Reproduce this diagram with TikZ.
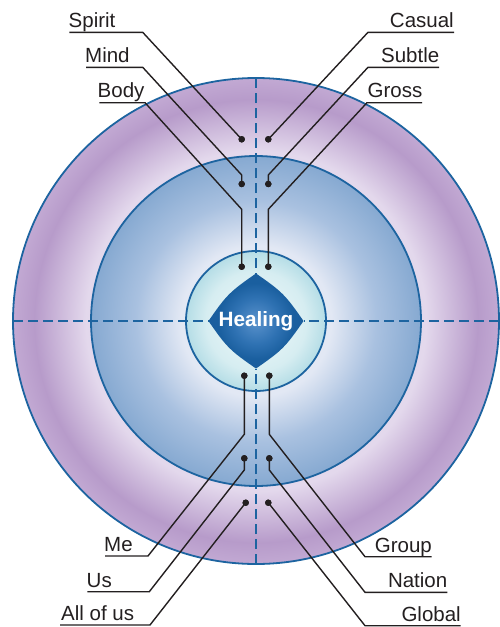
\documentclass[tikz,border=0pt]{standalone}
\usepackage{fontspec}
\setmainfont{Liberation Sans}
\definecolor{ringblue}{HTML}{1D64A0}
\definecolor{lineblack}{HTML}{231F20}
\definecolor{pl}{HTML}{E3D8EC}
\definecolor{pd}{HTML}{B79BCA}
\definecolor{pe}{HTML}{C2A9D3}
\definecolor{bc}{HTML}{EEF0F8}
\definecolor{bl}{HTML}{E2E8F4}
\definecolor{bm}{HTML}{A9C1E0}
\definecolor{be}{HTML}{86A9D1}
\definecolor{cc}{HTML}{F2FAFB}
\definecolor{cm}{HTML}{D6EDF1}
\definecolor{ce}{HTML}{B5DDE6}
\definecolor{dc}{HTML}{5A92CC}
\definecolor{dm}{HTML}{2F72B3}
\definecolor{de}{HTML}{1A5F9F}
\definecolor{df}{HTML}{165897}
\pgfdeclareradialshading{purplering}{\pgfpointorigin}{color(0bp)=(pl); color(17.5bp)=(pl); color(22.8bp)=(pd); color(25bp)=(pe); color(50bp)=(pe)}
\pgfdeclareradialshading{bluering}{\pgfpointorigin}{color(0bp)=(bc); color(11.4bp)=(bl); color(18.2bp)=(bm); color(25bp)=(be); color(50bp)=(be)}
\pgfdeclareradialshading{cyanring}{\pgfpointorigin}{color(0bp)=(cc); color(17.9bp)=(cm); color(25bp)=(ce); color(50bp)=(ce)}
\pgfdeclareradialshading{diamshade}{\pgfpointorigin}{color(0bp)=(dc); color(12bp)=(dm); color(20bp)=(de); color(50bp)=(df)}
\newcommand{\lblfont}{\fontsize{20.5}{24}\selectfont}
\newcommand{\healfont}{\fontsize{20.7}{24}\selectfont\bfseries}
\begin{document}
\begin{tikzpicture}[x=1pt,y=-1pt,
  ring/.style={draw=ringblue, line width=1.8pt},
  axisline/.style={draw=ringblue, line width=2pt, dash pattern=on 10pt off 5pt},
  conn/.style={draw=lineblack, line width=1.4pt, line join=miter},
  dotc/.style={circle, fill=lineblack, inner sep=0pt, minimum size=6.4pt},
  lblL/.style={anchor=base west, inner sep=0pt, font=\lblfont, text=lineblack},
  lblR/.style={anchor=base east, inner sep=0pt, font=\lblfont, text=lineblack}]
\useasboundingbox (0,0) rectangle (499,627);
\coordinate (c) at (256,321);
% rings
\shade[shading=purplering] (c) circle[radius=243pt];
\draw[ring] (c) circle[radius=243pt];
\shade[shading=bluering] (c) circle[radius=165pt];
\draw[ring] (c) circle[radius=165pt];
\shade[shading=cyanring] (c) circle[radius=70pt];
\draw[ring] (c) circle[radius=70pt];
% diamond
\shade[shading=diamshade] (208.5,321) .. controls (226.5,294.9) and (229.9,291.55) .. (256,273.5)
  .. controls (282.1,291.55) and (285.45,294.9) .. (303.5,321)
  .. controls (285.45,347.1) and (282.1,350.45) .. (256,368.5)
  .. controls (229.9,350.45) and (226.5,347.1) .. cycle;
\node[font=\healfont, text=white, inner sep=0pt] (heal) at (256,321) {Healing};
% dashed axes
\draw[axisline] (256,78) -- (256,273.5);
\draw[axisline] (256,564) -- (256,368.5);
\draw[axisline] (13,321) -- (208.5,321);
\draw[axisline] (499,321) -- (303.5,321);
% dots
\node[dotc] (dSpirit) at (241.7,139.3) {};
\node[dotc] (dMind) at (241.7,184) {};
\node[dotc] (dBody) at (241.7,266.7) {};
\node[dotc] (dCasual) at (268.3,139.3) {};
\node[dotc] (dSubtle) at (268.3,184) {};
\node[dotc] (dGross) at (268.3,266.7) {};
\node[dotc] (dMe) at (244.3,375.7) {};
\node[dotc] (dUs) at (244.3,458.3) {};
\node[dotc] (dAll) at (245.7,502.7) {};
\node[dotc] (dGroup) at (269.3,375.7) {};
\node[dotc] (dNation) at (269.3,458.3) {};
\node[dotc] (dGlobal) at (268.3,502.7) {};
% labels
\node[lblL] (tSpirit) at (68.5,27.3) {Spirit};
\node[lblL] (tMind) at (85,62.3) {Mind};
\node[lblL] (tBody) at (97.5,97.7) {Body};
\node[lblR] (tCasual) at (454,27.3) {Casual};
\node[lblR] (tSubtle) at (439.5,62.3) {Subtle};
\node[lblR] (tGross) at (422.5,97.7) {Gross};
\node[lblL] (tMe) at (104,551.3) {Me};
\node[lblL] (tUs) at (86.5,587) {Us};
\node[lblL] (tAll) at (61,620.5) {All of us};
\node[lblR] (tGroup) at (432,552) {Group};
\node[lblR] (tNation) at (447.5,587.6) {Nation};
\node[lblR] (tGlobal) at (461,621) {Global};
% underline starts
\coordinate (uSpirit) at (69.3,32.3);
\coordinate (uMind) at (86,67.3);
\coordinate (uBody) at (99.3,102.7);
\coordinate (uCasual) at (454,32.3);
\coordinate (uSubtle) at (439,67.3);
\coordinate (uGross) at (422,102.7);
\coordinate (uMe) at (105,556);
\coordinate (uUs) at (87.3,591.7);
\coordinate (uAll) at (60,625);
\coordinate (uGroup) at (431.7,556.7);
\coordinate (uNation) at (447.3,592.3);
\coordinate (uGlobal) at (460.7,625.7);
% connectors
\draw[conn] (uSpirit) -- (142.7,32.3) -- (dSpirit.center);
\draw[conn] (uMind) -- (142.7,67.3) -- (241.7,175) -- (dMind.center);
\draw[conn] (uBody) -- (145,102.7) -- (241.7,209.3) -- (dBody.center);
\draw[conn] (uCasual) -- (368,32.3) -- (dCasual.center);
\draw[conn] (uSubtle) -- (368,67.3) -- (268.3,175) -- (dSubtle.center);
\draw[conn] (uGross) -- (367,102.7) -- (268.3,209.3) -- (dGross.center);
\draw[conn] (uMe) -- (148,556) -- (244.3,434.3) -- (dMe.center);
\draw[conn] (uUs) -- (149.3,591.7) -- (244.3,470) -- (dUs.center);
\draw[conn] (uAll) -- (150,625) -- (dAll.center);
\draw[conn] (uGroup) -- (365,556.7) -- (269.3,434.3) -- (dGroup.center);
\draw[conn] (uNation) -- (365,592.3) -- (269.3,470) -- (dNation.center);
\draw[conn] (uGlobal) -- (365,625.7) -- (dGlobal.center);
% redraw dots on top
\foreach \d in {dSpirit,dMind,dBody,dCasual,dSubtle,dGross,dMe,dUs,dAll,dGroup,dNation,dGlobal}
  \fill[lineblack] (\d.center) circle[radius=3.2pt];
\end{tikzpicture}
\end{document}
